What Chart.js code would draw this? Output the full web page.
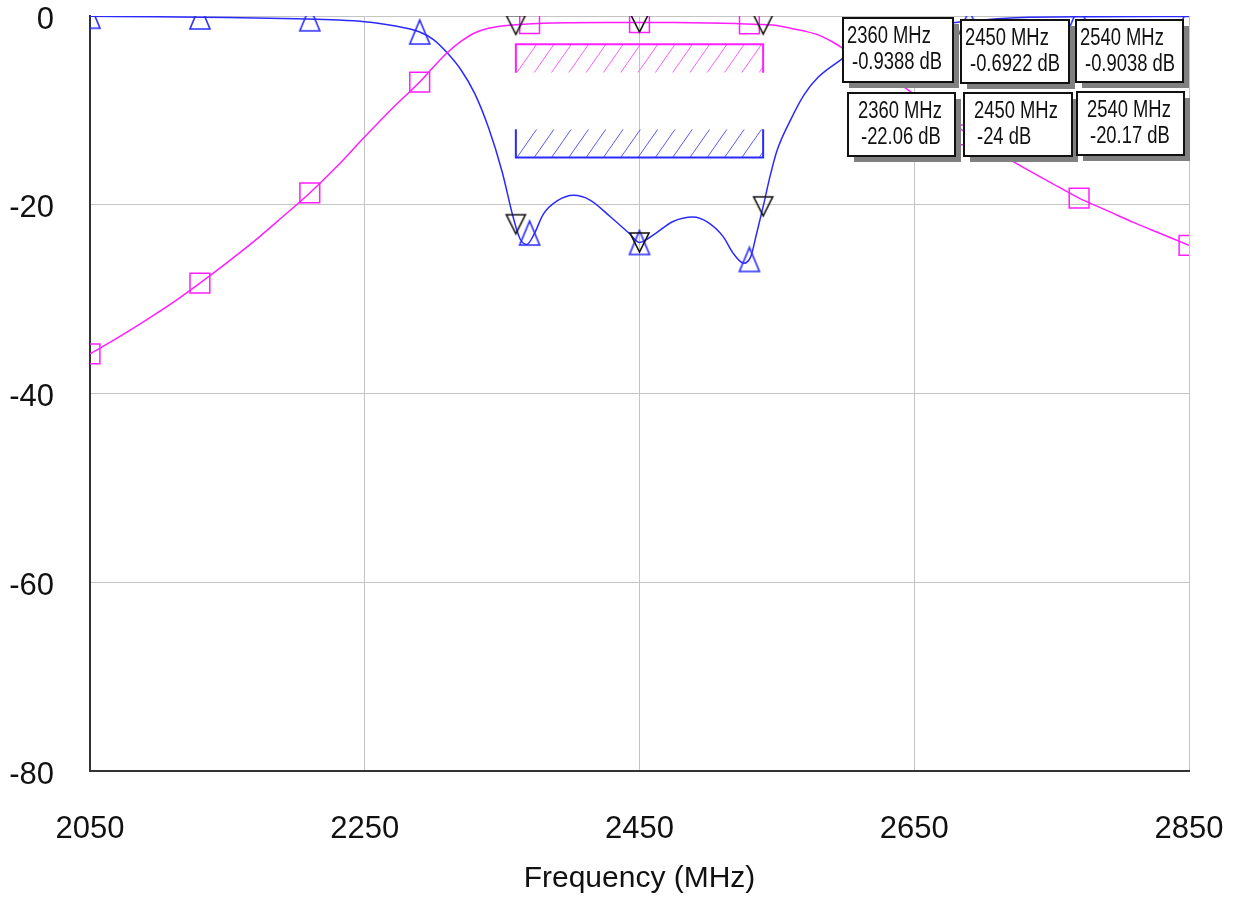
<!DOCTYPE html>
<html>
<head>
<meta charset="utf-8">
<title>Filter response</title>
<script src="https://cdn.jsdelivr.net/npm/chart.js@4.4.1/dist/chart.umd.min.js"></script>
<style>
  html, body { margin: 0; padding: 0; background: #fff; }
  #wrap { position: relative; width: 1233px; height: 907px; }
</style>
</head>
<body>
<div id="wrap"><canvas id="chart"></canvas></div>
<script>
// S21 trace (magenta), MHz / dB
const s21Freq = [2050, 2070, 2090, 2110, 2130, 2150, 2170, 2190, 2210, 2230, 2250, 2270, 2290, 2300,
  2310, 2320, 2330, 2340, 2350, 2360, 2380, 2400, 2425, 2450, 2475, 2500, 2520, 2540, 2550, 2560,
  2570, 2580, 2590, 2600, 2610, 2620, 2630, 2650, 2670, 2690, 2710, 2730, 2750, 2770, 2790, 2810,
  2830, 2850];
const s21Db = [-35.8, -34.1, -32.3, -30.4, -28.3, -26.1, -23.8, -21.3, -18.75, -15.9, -12.8, -9.8, -7.0, -5.4,
  -3.9, -2.7, -1.8, -1.3, -1.05, -0.94, -0.78, -0.72, -0.69, -0.69, -0.7, -0.74, -0.8, -0.9, -1.0, -1.3,
  -1.6, -2.0, -2.7, -3.6, -4.5, -5.4, -6.3, -8.3, -10.5, -12.6, -14.4, -16.1, -17.7, -19.3, -20.6, -21.9,
  -23.1, -24.3];

// S11 trace (blue)
const s11Freq = [2050, 2100, 2150, 2200, 2230, 2250, 2270, 2290, 2300, 2310, 2320, 2330, 2340, 2350,
  2358, 2363, 2368, 2373, 2380, 2390, 2402, 2414, 2429, 2443, 2450, 2456, 2463, 2474, 2489, 2499,
  2511, 2518, 2526, 2531, 2535, 2540, 2545, 2550, 2560, 2570, 2580, 2596, 2610, 2630, 2650, 2680,
  2720, 2780, 2850];
const s11Db = [-0.02, -0.08, -0.15, -0.3, -0.42, -0.6, -1.0, -1.7, -2.5, -3.9, -5.7, -8.2, -11.8, -16.5,
  -21.3, -23.6, -24.2, -23.2, -21.0, -19.6, -19.0, -19.5, -21.3, -23.1, -24.0, -23.6, -22.9, -21.8, -21.3, -21.8,
  -23.4, -25.1, -26.2, -25.5, -23.2, -20.2, -17.0, -14.3, -11.0, -8.3, -6.5, -4.7, -3.2, -1.9, -1.2, -0.7,
  -0.2, -0.08, -0.05];

// trace symbols every 80 MHz
const symbolFreq = [2050, 2130, 2210, 2290, 2370, 2450, 2530, 2610, 2690, 2770, 2850];
const s21Symbols = [-35.8, -28.3, -18.75, -7.0, -0.8, -0.69, -0.82, -4.5, -12.6, -19.3, -24.3];
const s11Symbols = [-0.02, -0.1, -0.3, -1.7, -23.0, -24.0, -25.8, -3.2, -0.6, -0.08, -0.05];

// marker readouts
const readoutFreq = [2360, 2450, 2540];
const readoutS21 = [-0.9388, -0.6922, -0.9038];
const readoutS11 = [-22.06, -24, -20.17];

// spec masks: [edge, far side]
const maskFreq = [2360, 2540];
const s21Mask = [-3, -6];
const s11Mask = [-15, -12];

const xTicks = [2050, 2250, 2450, 2650, 2850];
const yTicks = [0, -20, -40, -60, -80];

const MAGENTA = '#ff1eff';
const BLUE = '#2a2aff';
const FONT = "'Liberation Sans', Arial, sans-serif";

function pts(xs, ys) {
  return xs.map((f, i) => ({ x: f, y: ys[i] }));
}

// triangle symbols drawn into small canvases
function triangle(color, down, w, h, lw) {
  const c = document.createElement('canvas');
  c.width = w + 4;
  c.height = h + 4;
  const g = c.getContext('2d');
  g.strokeStyle = color;
  g.lineWidth = lw;
  g.beginPath();
  if (down) {
    g.moveTo(2, 2); g.lineTo(w + 2, 2); g.lineTo(w / 2 + 2, h + 2);
  } else {
    g.moveTo(w / 2 + 2, 2); g.lineTo(w + 2, h + 2); g.lineTo(2, h + 2);
  }
  g.closePath();
  g.stroke();
  return c;
}

const blueTri = triangle(BLUE, false, 20, 24, 1.6);
const blackTri = triangle('#111', true, 19, 19, 1.6);

function hatchBox(ctx, x0, x1, yEdge, yFar, hatchColor, edgeColor) {
  const top = Math.min(yEdge, yFar), bot = Math.max(yEdge, yFar);
  const h = bot - top;
  const lean = h * 0.7;
  ctx.save();
  ctx.beginPath();
  ctx.rect(x0, top, x1 - x0, h);
  ctx.clip();
  ctx.strokeStyle = hatchColor;
  ctx.lineWidth = 1;
  ctx.beginPath();
  for (let xs = x0 + 1; xs < x1; xs += 17.3) {
    ctx.moveTo(xs, bot);
    ctx.lineTo(xs + lean, top);
  }
  ctx.stroke();
  ctx.restore();
  ctx.strokeStyle = edgeColor;
  ctx.lineWidth = 2;
  ctx.beginPath();
  ctx.moveTo(x0, yFar);
  ctx.lineTo(x0, yEdge);
  ctx.lineTo(x1, yEdge);
  ctx.lineTo(x1, yFar);
  ctx.stroke();
}

// readout box layout: x, y, w, h
const boxRows = [
  { rects: [[843, 18, 110, 64], [961, 20, 108, 63], [1076, 20, 107, 62]], indent: [4, 9], values: readoutS21 },
  { rects: [[848, 93, 107, 63], [964, 93, 108, 63], [1077, 92, 107, 63]], indent: [10, 13], values: readoutS11 }
];

// narrow-looking text: squeeze horizontally
function narrowText(ctx, str, x, y) {
  ctx.save();
  ctx.translate(x, y);
  ctx.scale(0.8, 1);
  ctx.fillText(str, 0, 0);
  ctx.restore();
}

const overlays = {
  id: 'overlays',
  beforeDatasetsDraw(chart) {
    const { ctx, chartArea: a, scales: { x, y } } = chart;
    ctx.save();
    ctx.beginPath();
    ctx.rect(a.left, a.top, a.width, a.height);
    ctx.clip();
    const xa = x.getPixelForValue(maskFreq[0]), xb = x.getPixelForValue(maskFreq[1]);
    hatchBox(ctx, xa, xb, y.getPixelForValue(s21Mask[0]), y.getPixelForValue(s21Mask[1]), '#ff5cff', MAGENTA);
    hatchBox(ctx, xa, xb, y.getPixelForValue(s11Mask[0]), y.getPixelForValue(s11Mask[1]), '#5a5aff', BLUE);
    ctx.restore();
  },
  afterDatasetsDraw(chart) {
    const ctx = chart.ctx;
    ctx.save();
    ctx.font = '23px ' + FONT;
    ctx.textBaseline = 'middle';
    ctx.textAlign = 'left';
    boxRows.forEach(row => {
      row.rects.forEach((r, i) => {
        const [bx, by, bw, bh] = r;
        ctx.fillStyle = '#808080';
        ctx.fillRect(bx + 6, by + 6, bw, bh);
        ctx.fillStyle = '#fff';
        ctx.fillRect(bx, by, bw, bh);
        ctx.strokeStyle = '#111';
        ctx.lineWidth = 2;
        ctx.strokeRect(bx, by, bw, bh);
        ctx.fillStyle = '#111';
        narrowText(ctx, readoutFreq[i] + ' MHz', bx + row.indent[0], by + 19);
        narrowText(ctx, row.values[i] + ' dB', bx + row.indent[1], by + 45);
      });
    });
    ctx.restore();
  }
};

new Chart(document.getElementById('chart'), {
  type: 'scatter',
  data: {
    datasets: [
      { data: pts(readoutFreq, readoutS21), pointStyle: blackTri, showLine: false, clip: 0, order: 0 },
      { data: pts(readoutFreq, readoutS11), pointStyle: blackTri, showLine: false, clip: 0, order: 0 },
      { data: pts(symbolFreq, s21Symbols), pointStyle: 'rect', pointRadius: 14, borderColor: MAGENTA,
        borderWidth: 1.5, backgroundColor: 'transparent', showLine: false, clip: 0, order: 1 },
      { data: pts(symbolFreq, s11Symbols), pointStyle: blueTri, showLine: false, clip: 0, order: 1 },
      { data: pts(s21Freq, s21Db), showLine: true, pointRadius: 0, borderColor: MAGENTA, borderWidth: 1.5,
        cubicInterpolationMode: 'monotone', clip: 0, order: 2 },
      { data: pts(s11Freq, s11Db), showLine: true, pointRadius: 0, borderColor: BLUE, borderWidth: 1.5,
        cubicInterpolationMode: 'monotone', clip: 0, order: 2 }
    ]
  },
  options: {
    responsive: true,
    maintainAspectRatio: false,
    animation: false,
    layout: { padding: { left: 0, top: 16, right: 44, bottom: 0 } },
    plugins: { legend: { display: false }, tooltip: { enabled: false } },
    elements: { point: { hoverRadius: 0 } },
    scales: {
      x: {
        type: 'linear',
        min: 2050,
        max: 2850,
        afterBuildTicks: s => { s.ticks = xTicks.map(v => ({ value: v })); },
        afterFit: s => { s.height = 136; s.paddingLeft = 0; s.paddingRight = 0; },
        grid: { color: '#c4c4c4', lineWidth: 1, drawTicks: false },
        border: { color: '#333', width: 2 },
        ticks: { color: '#111', font: { family: FONT, size: 31 }, padding: 40, callback: v => String(v) },
        title: { display: true, text: 'Frequency (MHz)', color: '#111',
          font: { family: FONT, size: 30 }, padding: { top: 0, bottom: 10 } }
      },
      y: {
        type: 'linear',
        min: -80,
        max: 0,
        afterBuildTicks: s => { s.ticks = yTicks.map(v => ({ value: v })); },
        afterFit: s => { s.width = 90; s.paddingTop = 0; s.paddingBottom = 0; },
        grid: { color: '#c4c4c4', lineWidth: 1, drawTicks: false },
        border: { color: '#333', width: 2 },
        ticks: { color: '#111', font: { family: FONT, size: 31, lineHeight: 1 }, padding: 36,
          labelOffset: 4, callback: v => String(v) }
      }
    }
  },
  plugins: [overlays]
});
</script>
</body>
</html>
